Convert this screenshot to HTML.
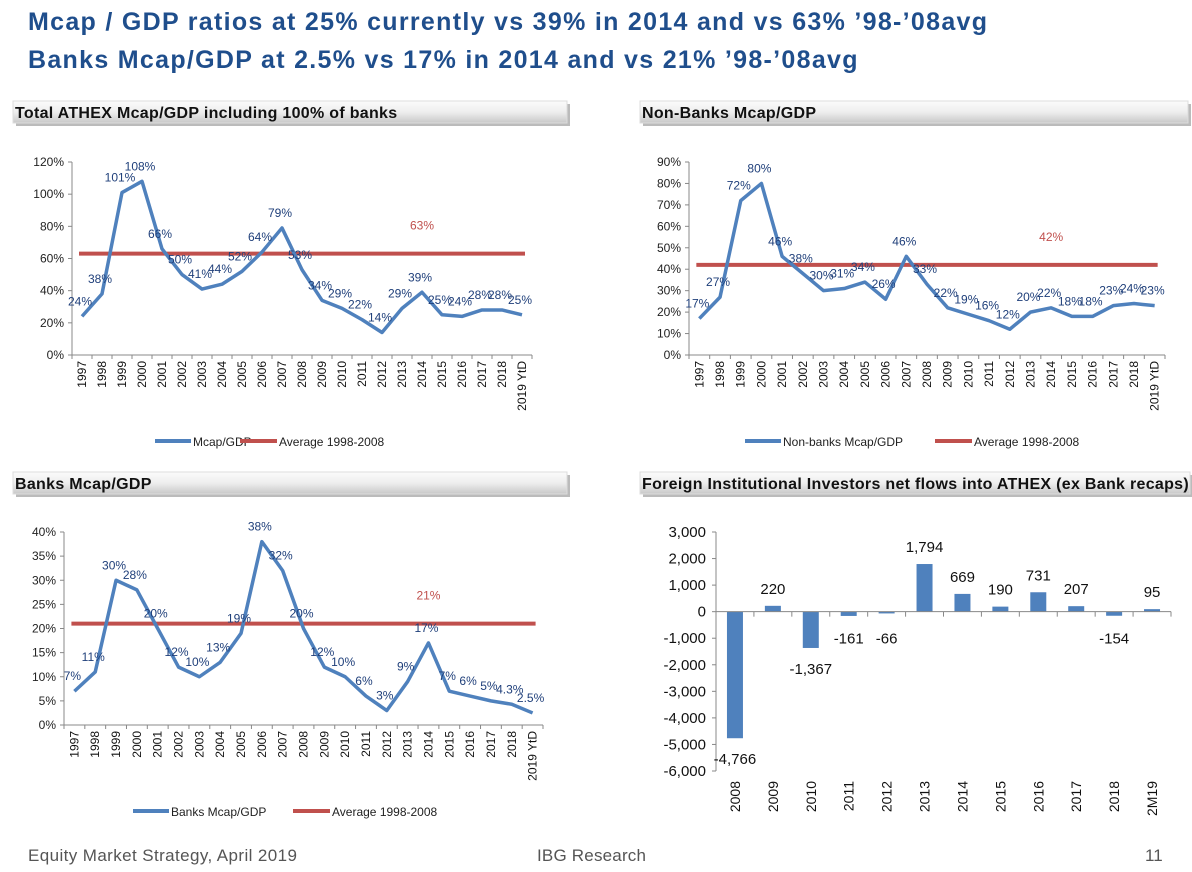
<!DOCTYPE html>
<html><head><meta charset="utf-8"><style>
body{margin:0;background:#fff;width:1192px;height:872px;overflow:hidden;font-family:"Liberation Sans",sans-serif}
svg{position:absolute;left:0;top:0}
</style></head><body>
<svg id="s" width="1192" height="872" xmlns="http://www.w3.org/2000/svg">
<defs><linearGradient id="hg" x1="0" y1="0" x2="0" y2="1"><stop offset="0" stop-color="#fbfbfb"/><stop offset="0.5" stop-color="#eeeeee"/><stop offset="1" stop-color="#c8c8c8"/></linearGradient></defs>
<text x="28" y="30" font-size="25" font-weight="bold" letter-spacing="1.3" fill="#1F4E8C">Mcap / GDP ratios at 25% currently vs 39% in 2014 and vs 63% ’98-’08avg</text>
<text x="28" y="68" font-size="25" font-weight="bold" letter-spacing="1.3" fill="#1F4E8C">Banks Mcap/GDP at 2.5% vs 17% in 2014 and vs 21% ’98-’08avg</text>
<text x="28" y="861" font-size="17" letter-spacing="0.4" fill="#555">Equity Market Strategy, April 2019</text>
<text x="537" y="861" font-size="17" letter-spacing="0.2" fill="#555">IBG Research</text>
<text x="1145" y="861" font-size="17" fill="#555">11</text>
</svg>
<script>
const years=["1997","1998","1999","2000","2001","2002","2003","2004","2005","2006","2007","2008","2009","2010","2011","2012","2013","2014","2015","2016","2017","2018","2019 YtD"];
const totalValues=[24,38,101,108,66,50,41,44,52,64,79,53,34,29,22,14,29,39,25,24,28,28,25];
const totalAvg=63;
const totalTicks=[0,20,40,60,80,100,120];
const nonBankValues=[17,27,72,80,46,38,30,31,34,26,46,33,22,19,16,12,20,22,18,18,23,24,23];
const nonBankAvg=42;
const nonBankTicks=[0,10,20,30,40,50,60,70,80,90];
const bankValues=[7,11,30,28,20,12,10,13,19,38,32,20,12,10,6,3,9,17,7,6,5,4.3,2.5];
const bankLabels=["7%","11%","30%","28%","20%","12%","10%","13%","19%","38%","32%","20%","12%","10%","6%","3%","9%","17%","7%","6%","5%","4.3%","2.5%"];
const bankAvg=21;
const bankTicks=[0,5,10,15,20,25,30,35,40];
const flowCats=["2008","2009","2010","2011","2012","2013","2014","2015","2016","2017","2018","2M19"];
const flowValues=[-4766,220,-1367,-161,-66,1794,669,190,731,207,-154,95];
const flowTicks=[-6000,-5000,-4000,-3000,-2000,-1000,0,1000,2000,3000];

const S=document.getElementById('s');const NS='http://www.w3.org/2000/svg';
function mk(tag,attrs,txt){const e=document.createElementNS(NS,tag);for(const k in attrs)e.setAttribute(k,attrs[k]);if(txt!==undefined)e.textContent=txt;S.appendChild(e);return e;}
function header(x,y,w,label,name){
 const r=mk('rect',{x:x+3,y:y+3,width:w,height:22,fill:'#bbb'});
 
 
 const b=mk('rect',{x:x,y:y,width:w,height:22,fill:'url(#hg)',stroke:'#ddd'});
 
 
 const t=mk('text',{x:x+2,y:y+17,'font-size':16,'font-weight':'bold','letter-spacing':0.3,fill:'#111'},label);
 
 
}
function lineChart(o){
 const n=o.cats.length,step=(o.x1-o.x0)/n;
 const X=i=>o.x0+step*(i+0.5);
 const Y=v=>o.yb-(v-o.ticks[0])/(o.ticks[o.ticks.length-1]-o.ticks[0])*(o.yb-o.yt);
 const ax=mk('line',{x1:o.x0,y1:o.yt,x2:o.x0,y2:o.yb,stroke:'#888'});
 
 
 const bx=mk('line',{x1:o.x0,y1:o.yb,x2:o.x1,y2:o.yb,stroke:'#888'});
 
 
 o.ticks.forEach(t=>{mk('line',{x1:o.x0-4,y1:Y(t),x2:o.x0,y2:Y(t),stroke:'#888'});
  const l=mk('text',{x:o.x0-8,y:Y(t)+4,'font-size':12,'text-anchor':'end',fill:'#222'},t+'%');
  
  });
 for(let i=0;i<=n;i++)mk('line',{x1:o.x0+step*i,y1:o.yb,x2:o.x0+step*i,y2:o.yb+4,stroke:'#888'});
 o.cats.forEach((c,i)=>{const l=mk('text',{x:0,y:0,'font-size':12,'text-anchor':'end',fill:'#111',transform:`translate(${X(i)+4},${o.yb+6}) rotate(-90)`},c);
  
  });
 const av=mk('line',{x1:X(0)-3,y1:Y(o.avg),x2:X(n-1)+3,y2:Y(o.avg),stroke:'#C0504D','stroke-width':4});
 
 
 const al=mk('text',{x:X(Math.round(n*0.72)),y:Y(o.avg)-24,'font-size':12,fill:'#C0504D','text-anchor':'middle'},o.avg+'%');
 
 
 const pl=mk('polyline',{points:o.vals.map((v,i)=>X(i)+','+Y(v)).join(' '),fill:'none',stroke:'#4F81BD','stroke-width':3.5,'stroke-linejoin':'round'});
 
 
 o.vals.forEach((v,i)=>{const l=mk('text',{x:X(i)-2,y:Y(v)-11,'font-size':12,fill:'#1F3F7A','text-anchor':'middle'},(o.labels?o.labels[i]:v+'%'));
  
  });
 const lg=o.legend;
 const l1=mk('line',{x1:lg.x,y1:lg.y,x2:lg.x+36,y2:lg.y,stroke:'#4F81BD','stroke-width':4});
 
 
 const t1=mk('text',{x:lg.x+38,y:lg.y+5,'font-size':12,fill:'#222'},lg.s);
 
 
 const l2=mk('line',{x1:lg.x2,y1:lg.y,x2:lg.x2+37,y2:lg.y,stroke:'#C0504D','stroke-width':4});
 
 
 const t2=mk('text',{x:lg.x2+39,y:lg.y+5,'font-size':12,fill:'#222'},'Average 1998-2008');
 
 
}
header(13,101,554,'Total ATHEX Mcap/GDP including 100% of banks','total-chart');
header(640,101,548,'Non-Banks Mcap/GDP','nonbank-chart');
header(13,472,554,'Banks Mcap/GDP','bank-chart');
header(640,472,550,'Foreign Institutional Investors net flows into ATHEX (ex  Bank recaps)','flows-chart');
lineChart({name:'total',cats:years,vals:totalValues,avg:totalAvg,ticks:totalTicks,x0:72,x1:532,yt:162,yb:355,legend:{x:155,y:441,s:'Mcap/GDP',x2:240}});
lineChart({name:'nonbank',cats:years,vals:nonBankValues,avg:nonBankAvg,ticks:nonBankTicks,x0:689,x1:1165,yt:162,yb:355,legend:{x:745,y:441,s:'Non-banks Mcap/GDP',x2:935}});
lineChart({name:'bank',cats:years,vals:bankValues,labels:bankLabels,avg:bankAvg,ticks:bankTicks,x0:64,x1:543,yt:532,yb:725,legend:{x:133,y:811,s:'Banks Mcap/GDP',x2:293}});
(function(){
 const x0=716,x1=1171,yt=532,yb=771,n=flowCats.length,step=(x1-x0)/n;
 const lo=flowTicks[0],hi=flowTicks[flowTicks.length-1];
 const Y=v=>yb-(v-lo)/(hi-lo)*(yb-yt);const X=i=>x0+step*(i+0.5);
 const ax=mk('line',{x1:x0,y1:yt,x2:x0,y2:yb,stroke:'#888'});
 
 
 flowTicks.forEach(t=>{mk('line',{x1:x0-4,y1:Y(t),x2:x0,y2:Y(t),stroke:'#888'});
  const l=mk('text',{x:x0-10,y:Y(t)+5,'font-size':15,'text-anchor':'end',fill:'#111'},t.toLocaleString('en-US'));
  
  });
 flowValues.forEach((v,i)=>{const b=mk('rect',{x:X(i)-8,y:Math.min(Y(v),Y(0)),width:16,height:Math.abs(Y(v)-Y(0)),fill:'#4F81BD'});
  
  
  const ly=v>=0?Y(v)-12:(v<-3000?Y(v)+26:(v<-1000?Y(v)+26:Y(0)+32));
  const l=mk('text',{x:X(i),y:ly,'font-size':15,'text-anchor':'middle',fill:'#111'},v.toLocaleString('en-US'));
  
  
  const c=mk('text',{x:0,y:0,'font-size':14,'text-anchor':'end',fill:'#111',transform:`translate(${X(i)+5},${yb+10}) rotate(-90)`},flowCats[i]);
  
  });
 const zx=mk('line',{x1:x0,y1:Y(0),x2:x1,y2:Y(0),stroke:'#888'});
 
 
 for(let i=0;i<=n;i++)mk('line',{x1:x0+step*i,y1:Y(0),x2:x0+step*i,y2:Y(0)+5,stroke:'#888'});
})();
</script>
</body></html>
